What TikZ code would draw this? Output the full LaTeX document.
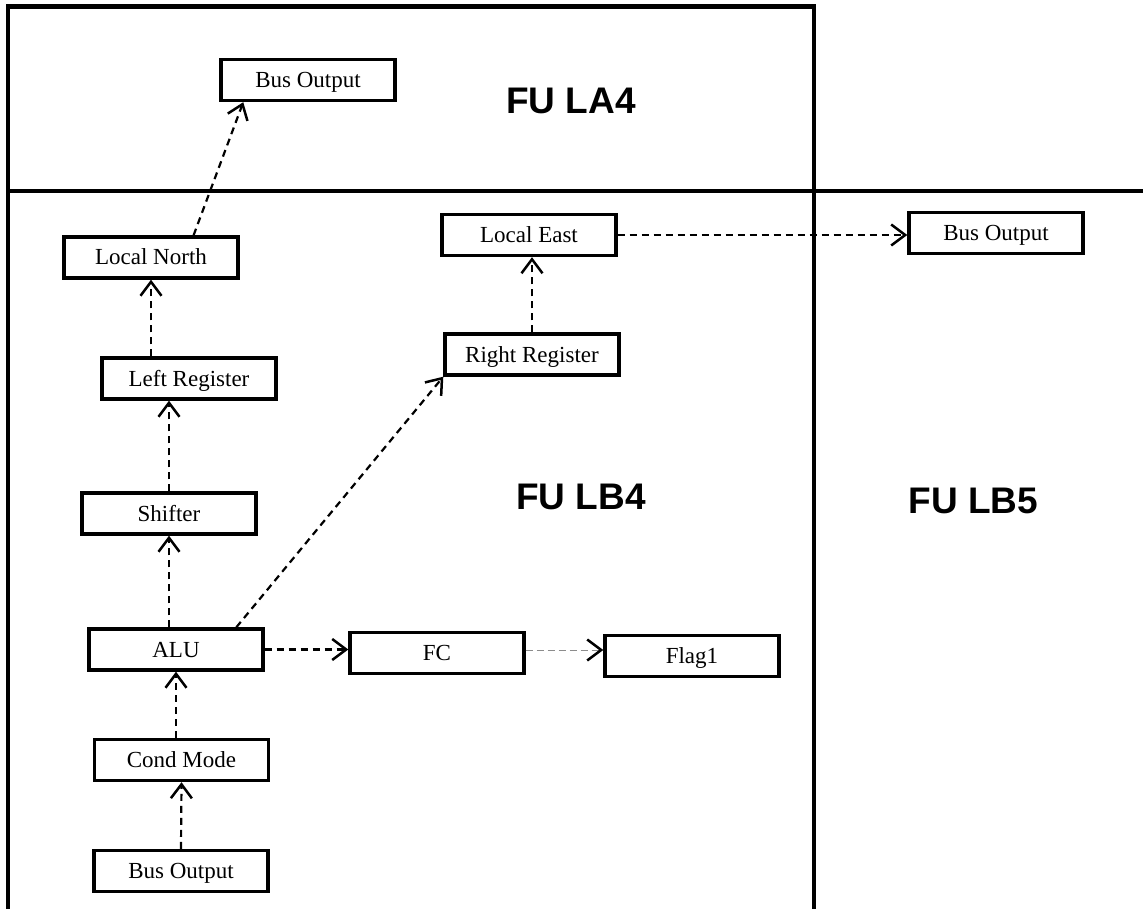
\documentclass[tikz,border=0pt]{standalone}
\usepackage{fontspec}
\setmainfont{Liberation Serif}
\newfontfamily\labelfont{Liberation Sans}
\usetikzlibrary{arrows.meta,calc}

\tikzset{
  frame/.style={line width=4.6pt},
  box/.style={draw, line width=3.4pt, rectangle, inner sep=0pt,
              minimum width=174pt, minimum height=41pt,
              text height=15pt, text depth=0pt,
              font=\fontsize{23}{25}\selectfont},
  region/.style={font=\labelfont\bfseries\fontsize{37}{40}\selectfont},
  flow/.style={line width=2.2pt, dash pattern=on 7pt off 5pt,
               -{Straight Barb[length=14pt,width=21pt,line width=2.5pt]}},
  weakflow/.style={line width=1pt, draw=black!45, dash pattern=on 7pt off 4pt,
               -{Straight Barb[length=14pt,width=21pt,line width=2.5pt,black]}}
}

\begin{document}
\begin{tikzpicture}[x=1pt,y=-1pt]
\useasboundingbox (0,0) rectangle (1143,909);

% functional unit boundaries
\draw[frame] (8,909) -- (8,6.5) -- (814,6.5) -- (814,909);
\draw[frame] (8,191) -- (1143,191);

% unit names
\node[region] (la4) at (571,100.5) {FU LA4};
\node[region] (lb4) at (581,496.5) {FU LB4};
\node[region] (lb5) at (973.5,500.5) {FU LB5};

% blocks
\node[box] (bo1) at (308,80) {Bus Output};
\node[box] (ln) at (151,257.5) {Local North};
\node[box] (le) at (529,235) {Local East};
\node[box] (rr) at (532,354.5) {Right Register};
\node[box] (bor) at (996,233) {Bus Output};
\node[box] (lr) at (189,378.5) {Left Register};
\node[box] (sh) at (169,513.5) {Shifter};
\node[box] (alu) at (176,649.5) {ALU};
\node[box] (fc) at (437,653) {FC};
\node[box] (flag) at (692,656) {Flag1};
\node[box] (cm) at (181.5,760) {Cond Mode};
\node[box] (bob) at (181,871) {Bus Output};

% data paths
\draw[flow] (bob.north) -- (cm.south);
\draw[flow] (cm.north -| alu.south) -- (alu.south);
\draw[flow] (alu.north -| sh.south) -- (sh.south);
\draw[flow] (sh.north) -- (sh.north |- lr.south);
\draw[flow] (lr.north -| ln.south) -- (ln.south);
\draw[flow] ($(ln.north)!0.48!(ln.north east)$) -- ($(bo1.south west)!0.27!(bo1.south)$);
\draw[flow] ($(alu.north)!0.68!(alu.north east)$) -- (rr.south west);
\draw[flow] (rr.north) -- (rr.north |- le.south);
\draw[flow] (le.east) -- (le.east -| bor.west);
\draw[flow] (alu.east) -- (alu.east -| fc.west);
\draw[weakflow] ($(fc.east)+(0,-3)$) -- ($(fc.east -| flag.west)+(0,-3)$);
\end{tikzpicture}
\end{document}
